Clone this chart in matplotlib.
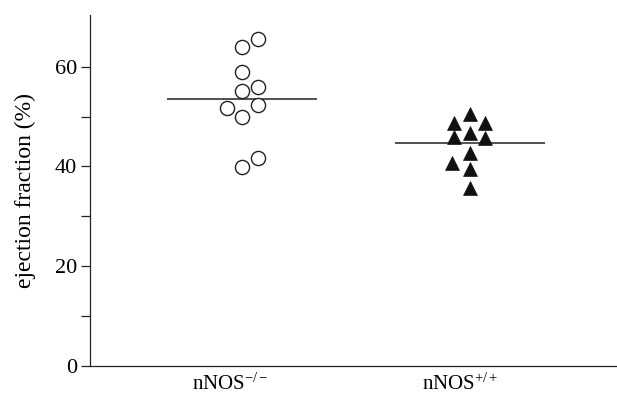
import numpy as np
import matplotlib
matplotlib.use("Agg")
import matplotlib.pyplot as plt
from matplotlib.transforms import ScaledTranslation

# ---- data ----
groups = ["nNOS$^{\u2212/\u2212}$", "nNOS$^{+/+}$"]
knockout_ef = [64.0, 65.6, 59.0, 55.1, 56.0, 51.7, 52.3, 50.0, 39.9, 41.7]
wildtype_ef = [50.5, 48.8, 48.8, 46.8, 46.0, 45.8, 42.7, 40.6, 39.5, 35.7]
group_means = [53.5, 44.8]
y_ticks = [0, 20, 40, 60]
y_minor = [10, 30, 50]

# ---- layout / style (not data) ----
ko_jitter = [0, 1, 0, 0, 1, -1, 1, 0, 0, 1]
wt_jitter = [0, -1, 1, 0, -1, 1, 0, -1.15, 0, 0]
jit = 0.068
half_w = 0.33

plt.rcParams['font.family'] = ['Liberation Serif', 'DejaVu Serif']
plt.rcParams['mathtext.fontset'] = 'custom'
plt.rcParams['mathtext.rm'] = 'Liberation Serif'
plt.rcParams['mathtext.it'] = 'Liberation Serif'

fig = plt.figure(figsize=(6.17, 3.95), dpi=100)
W, H = 617, 395
ax = fig.add_axes([90 / W, (H - 365.7) / H, (617 - 90) / W, (365.7 - 15) / H])

pos = np.arange(1, len(groups) + 1)
ax.scatter(pos[0] + jit * np.array(ko_jitter), knockout_ef, s=10.2 ** 2, marker='o',
           facecolors='white', edgecolors='#222222', linewidths=1.0, zorder=3)
ax.scatter(pos[1] + jit * np.array(wt_jitter), wildtype_ef, s=10 ** 2, marker='^',
           facecolors='#111111', edgecolors='#111111', linewidths=0.5, zorder=3)

for p, m in zip(pos, group_means):
    ax.hlines(m, p - half_w, p + half_w, colors='#222222', linewidth=1.1, zorder=2)

ax.set_xlim(0.333, 2.645)
ax.set_ylim(0, 70.4)

ax.spines['top'].set_visible(False)
ax.spines['right'].set_visible(False)
for s in ('left', 'bottom'):
    ax.spines[s].set_linewidth(0.9)
    ax.spines[s].set_color('#222222')

ax.set_yticks(y_ticks)
ax.set_yticks(y_minor, minor=True)
ax.tick_params(axis='y', which='both', direction='out', length=6.5, width=0.9,
               color='#222222', labelsize=16, pad=3)
ax.set_xticks(pos)
ax.set_xticklabels(groups)
ax.tick_params(axis='x', length=0, labelsize=15, pad=6)
offsets = [-12, -10]
for lab, dx in zip(ax.get_xticklabels(), offsets):
    lab.set_transform(lab.get_transform() + ScaledTranslation(dx / 100, 0, fig.dpi_scale_trans))

ax.set_ylabel('ejection fraction (%)', fontsize=17, labelpad=13)

fig.savefig('out.png', dpi=100)
